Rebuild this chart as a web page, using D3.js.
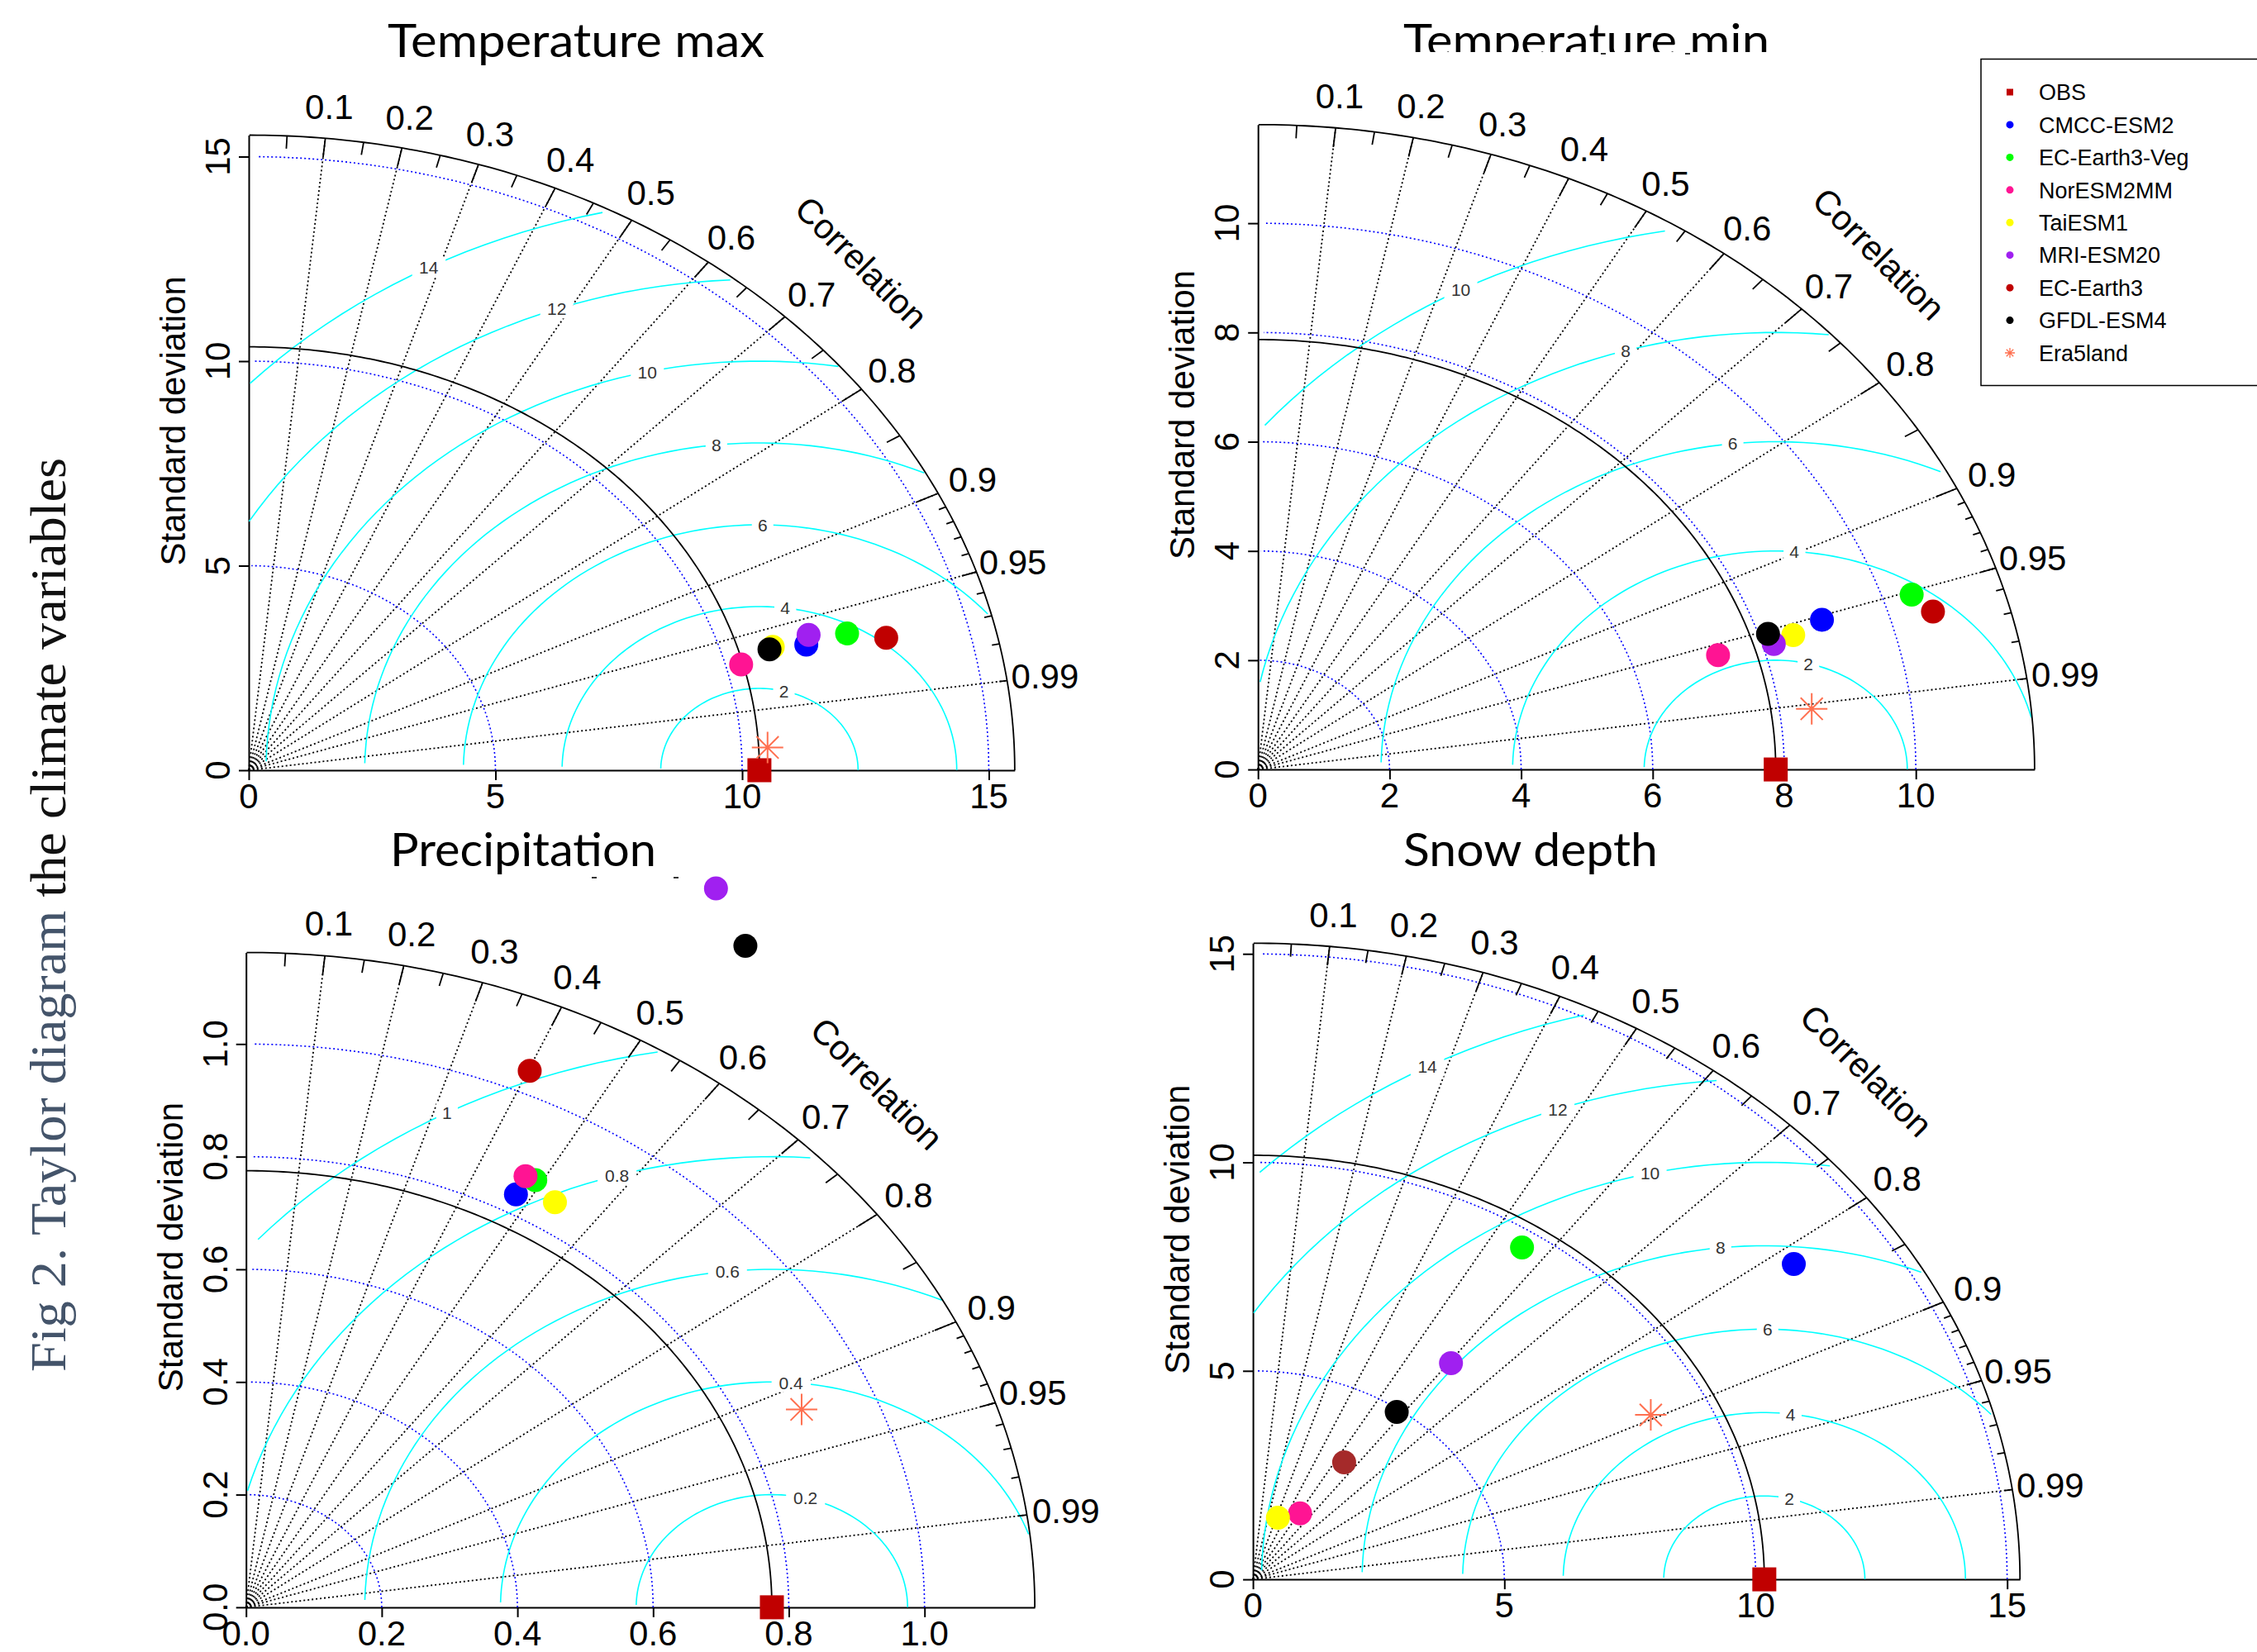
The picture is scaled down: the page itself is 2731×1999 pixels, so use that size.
<!DOCTYPE html>
<html>
<head>
<meta charset="utf-8">
<script src="https://cdn.jsdelivr.net/npm/d3@7"></script>
<style>
  body { margin: 0; background: #fff; }
</style>
</head>
<body>
<script>
// ---- data ----
const models = ["CMCC-ESM2", "EC-Earth3-Veg", "NorESM2MM", "TaiESM1", "MRI-ESM20", "EC-Earth3", "GFDL-ESM4"];
const modelColors = ["#0000ff", "#00ff00", "#ff1493", "#ffff00", "#a020f0", "#c00000", "#000000"];
const snowColors  = ["#0000ff", "#00ff00", "#ff1493", "#ffff00", "#a020f0", "#a52a2a", "#000000"];

// standard deviation + correlation per model (same order as models)
const tmaxObsSd = 10.35;
const tmaxSd  = [11.71, 12.58, 10.31, 11.04, 11.82, 13.32, 10.96];
const tmaxCor = [0.965, 0.964, 0.968, 0.962, 0.960, 0.970, 0.963];
const tmaxEra = [10.53, 0.9986];

const tminObsSd = 7.87;
const tminSd  = [9.00, 10.44, 7.30, 8.50, 8.17, 10.66, 8.14];
const tminCor = [0.9525, 0.9518, 0.958, 0.9572, 0.9597, 0.9625, 0.9524];
const tminEra = [8.49, 0.9914];

const precObsSd = 0.775;
const precSd  = [0.834, 0.870, 0.869, 0.851, 1.452, 1.040, 1.386];
const precCor = [0.477, 0.490, 0.474, 0.535, 0.477, 0.402, 0.531];
const precEra = [0.891, 0.919];

const snowObsSd = 10.17;
const snowSd  = [13.15, 9.59, 1.84, 1.56, 6.51, 3.34, 4.93];
const snowCor = [0.818, 0.558, 0.509, 0.318, 0.605, 0.543, 0.580];
const snowEra = [8.84, 0.895];

const tmaxTicks = [0, 5, 10, 15];
const tminTicks = [0, 2, 4, 6, 8, 10];
const precTicks = [0, 0.2, 0.4, 0.6, 0.8, 1.0];
const snowTicks = [0, 5, 10, 15];

const tmaxGamma = [2, 4, 6, 8, 10, 12, 14];
const tminGamma = [2, 4, 6, 8, 10];
const precGamma = [0.2, 0.4, 0.6, 0.8, 1.0];
const snowGamma = [2, 4, 6, 8, 10, 12, 14];

const corLabels = [0.1, 0.2, 0.3, 0.4, 0.5, 0.6, 0.7, 0.8, 0.9, 0.95, 0.99];

// ---- page ----
const W = 2731, H = 1999;
const RFONT = "'Liberation Sans', Arial, sans-serif";
const svg = d3.select("body").append("svg")
    .attr("width", W).attr("height", H)
    .style("background", "#fff");

const panels = [
  {title: "Temperature max", obs: tmaxObsSd, sd: tmaxSd, cor: tmaxCor, era: tmaxEra, ticks: tmaxTicks, gamma: tmaxGamma,
   colors: modelColors, fmt: d3.format("d"), ox: 301, oy: 932, kx: 59.7, ky: 49.5, tx: 469, tw: 456, ty: 69},
  {title: "Temperature min", obs: tminObsSd, sd: tminSd, cor: tminCor, era: tminEra, ticks: tminTicks, gamma: tminGamma,
   colors: modelColors, fmt: d3.format("d"), ox: 1522.2, oy: 931.1, kx: 79.6, ky: 66.1, tx: 1698, tw: 443, ty: 69, clip: 63},
  {title: "Precipitation", obs: precObsSd, sd: precSd, cor: precCor, era: precEra, ticks: precTicks, gamma: precGamma,
   colors: modelColors, fmt: d3.format(".1f"), ox: 297.7, oy: 1944.9, kx: 821, ky: 681.6, tx: 472, tw: 322, ty: 1048},
  {title: "Snow depth", obs: snowObsSd, sd: snowSd, cor: snowCor, era: snowEra, ticks: snowTicks, gamma: snowGamma,
   colors: snowColors, fmt: d3.format("d"), ox: 1516.1, oy: 1911.1, kx: 60.84, ky: 50.46, tx: 1698, tw: 308, ty: 1048}
];

function drawPanel(p, idx) {
  const maxsd = 1.5 * p.obs;
  const x = d3.scaleLinear().domain([0, maxsd]).range([p.ox, p.ox + maxsd * p.kx]);
  const y = d3.scaleLinear().domain([0, maxsd]).range([p.oy, p.oy - maxsd * p.ky]);
  const line = d3.line().x(d => x(d[0])).y(d => y(d[1]));
  const quarter = (r, step) => d3.range(0, Math.PI / 2, step).map(t => [Math.cos(t) * r, Math.sin(t) * r]);
  const g = svg.append("g").attr("font-family", RFONT);

  // title
  const title = g.append("text")
      .attr("x", p.tx).attr("y", p.ty)
      .attr("font-family", "Lato, 'Open Sans', sans-serif")
      .attr("font-size", 57)
      .attr("textLength", p.tw).attr("lengthAdjust", "spacingAndGlyphs")
      .text(p.title);
  if (p.clip) {
    svg.append("clipPath").attr("id", "clip" + idx)
      .append("rect").attr("x", p.tx - 20).attr("y", 0).attr("width", p.tw + 40).attr("height", p.clip);
    title.attr("clip-path", "url(#clip" + idx + ")");
  }

  // y label
  g.append("text")
      .attr("transform", `translate(${p.ox - 77},${y(0.55 * maxsd)}) rotate(-90)`)
      .attr("text-anchor", "middle")
      .attr("font-size", 42)
      .text("Standard deviation");

  // correlation rays
  g.selectAll(".ray").data(corLabels).join("path")
      .attr("d", c => line([[0, 0], [maxsd * c, maxsd * Math.sqrt(1 - c * c)]]))
      .attr("fill", "none").attr("stroke", "#000").attr("stroke-width", 1.8)
      .attr("stroke-dasharray", "2,3");

  // axes
  const fmt = p.fmt;
  const xAxis = d3.axisBottom(x).tickValues(p.ticks).tickSize(12).tickSizeOuter(0).tickFormat("");
  const yAxis = d3.axisLeft(y).tickValues(p.ticks).tickSize(12).tickSizeOuter(0).tickFormat("");
  const ax = g.append("g").attr("transform", `translate(0,${p.oy})`).call(xAxis);
  const ay = g.append("g").attr("transform", `translate(${p.ox},0)`).call(yAxis);
  [ax, ay].forEach(a => {
    a.selectAll("path, line").attr("stroke", "#000").attr("stroke-width", 2);
  });
  g.selectAll(".xt").data(p.ticks).join("text")
      .attr("x", d => x(d)).attr("y", p.oy + 46)
      .attr("text-anchor", "middle").attr("font-size", 42)
      .text(fmt);
  g.selectAll(".yt").data(p.ticks).join("text")
      .attr("transform", d => `translate(${p.ox - 23},${y(d)}) rotate(-90)`)
      .attr("text-anchor", "middle").attr("font-size", 42)
      .text(fmt);

  // sd arcs
  g.selectAll(".sdarc").data(p.ticks.filter(t => t > 0)).join("path")
      .attr("d", r => line(quarter(r, 0.03)))
      .attr("fill", "none").attr("stroke", "#0000ff").attr("stroke-width", 1.6)
      .attr("stroke-dasharray", "2,3");

  // centred RMS contours (plotrix style)
  const th = d3.range(0, Math.PI, 0.03);
  const n = p.gamma.length;
  p.gamma.forEach((gm, i) => {
    const pts = th.map(t => [Math.cos(t) * gm + p.obs, Math.sin(t) * gm]);
    const neg = pts.findIndex(d => d[0] < 0);
    const end = neg >= 0 ? neg - 1 : pts.length - 1;
    let outside = -1;
    pts.forEach((d, j) => { if (d[0] * d[0] + d[1] * d[1] > maxsd * maxsd) outside = j; });
    const start = outside >= 0 ? outside + 1 : 0;
    g.append("path")
        .attr("d", line(pts.slice(start, end + 1)))
        .attr("fill", "none").attr("stroke", "#00ffff").attr("stroke-width", 1.6);
    const lp = Math.floor(45 + 25 * i / (n - 1)) - 1;
    if (pts[lp][0] > 0) {
      const lab = g.append("g");
      const tx = lab.append("text")
          .attr("x", x(pts[lp][0])).attr("y", y(pts[lp][1]))
          .attr("dy", "0.36em").attr("text-anchor", "middle")
          .attr("font-size", 21).attr("fill", "#333")
          .text(gm);
      const bb = tx.node().getBBox();
      lab.insert("rect", "text")
          .attr("x", bb.x - 6 - bb.width * 0.1).attr("y", bb.y)
          .attr("width", bb.width * 1.2 + 12).attr("height", bb.height)
          .attr("fill", "#fff");
    }
  });

  // outer arc and ticks
  g.append("path").attr("d", line(quarter(maxsd, 0.01)))
      .attr("fill", "none").attr("stroke", "#000").attr("stroke-width", 1.8);
  const tickSet = (vals, len) => vals.map(c => {
    const s = Math.sqrt(1 - c * c);
    return [[c * maxsd, s * maxsd], [c * len * maxsd, s * len * maxsd]];
  });
  const big = d3.range(1, 10).map(k => k / 10);
  const med = d3.range(0, 10).map(k => 0.05 + k / 10);
  const sml = d3.range(1, 10).map(k => 0.9 + k / 100);
  [[big, 0.97], [med, 0.98], [sml, 0.99]].forEach(([vals, len]) => {
    g.selectAll(null).data(tickSet(vals, len)).join("path")
        .attr("d", line).attr("stroke", "#000").attr("stroke-width", 1.8);
  });

  // reference arc
  g.append("path").attr("d", line(quarter(p.obs, 0.01)))
      .attr("fill", "none").attr("stroke", "#000").attr("stroke-width", 1.8);

  // correlation labels
  g.selectAll(".cl").data(corLabels).join("text")
      .attr("x", c => x(c * 1.05 * maxsd))
      .attr("y", c => y(Math.sqrt(1 - c * c) * 1.05 * maxsd))
      .attr("dy", "0.36em").attr("text-anchor", "middle").attr("font-size", 42)
      .text(c => c);
  g.append("text")
      .attr("transform", `translate(${x(0.8 * maxsd)},${y(0.8 * maxsd)}) rotate(45)`)
      .attr("dy", "0.36em").attr("text-anchor", "middle").attr("font-size", 42)
      .text("Correlation");

  // observation
  g.append("rect")
      .attr("x", x(p.obs) - 14.5).attr("y", y(0) - 14.5)
      .attr("width", 29).attr("height", 29).attr("fill", "#c00000");

  // models
  g.selectAll(".pt").data(p.sd).join("circle")
      .attr("cx", (s, i) => x(s * p.cor[i]))
      .attr("cy", (s, i) => y(s * Math.sqrt(1 - p.cor[i] * p.cor[i])))
      .attr("r", 14.5)
      .attr("fill", (s, i) => p.colors[i]);

  // era5land
  const ex = x(p.era[0] * p.era[1]), ey = y(p.era[0] * Math.sqrt(1 - p.era[1] * p.era[1]));
  g.append("path").attr("d", star(ex, ey, 19))
      .attr("stroke", "#ff7050").attr("stroke-width", 2).attr("fill", "none");
}

function star(cx, cy, r) {
  const d = r * Math.SQRT1_2;
  return `M${cx - r},${cy}H${cx + r}M${cx},${cy - r}V${cy + r}` +
         `M${cx - d},${cy - d}L${cx + d},${cy + d}M${cx - d},${cy + d}L${cx + d},${cy - d}`;
}

panels.forEach(drawPanel);

// small leftover marks under two titles
const marks = [[1937, 64], [2039, 64], [716, 1061], [815, 1061]];
svg.selectAll(".mk").data(marks).join("rect")
    .attr("x", d => d[0]).attr("y", d => d[1]).attr("width", 6).attr("height", 2).attr("fill", "#333");

// legend
const legNames = ["OBS"].concat(models, ["Era5land"]);
const legColors = ["#c00000"].concat(modelColors, ["#ff7050"]);
const leg = svg.append("g").attr("font-family", RFONT);
leg.append("rect").attr("x", 2397).attr("y", 71.5).attr("width", 400).attr("height", 395)
    .attr("fill", "#fff").attr("stroke", "#000").attr("stroke-width", 1.5);
const ly = d3.scaleLinear().domain([0, 8]).range([111.5, 427]);
legNames.forEach((nm, i) => {
  const cy = ly(i);
  if (i === 0) {
    leg.append("rect").attr("x", 2428).attr("y", cy - 4).attr("width", 8).attr("height", 8).attr("fill", legColors[i]);
  } else if (i === legNames.length - 1) {
    leg.append("path").attr("d", star(2432, cy, 6)).attr("stroke", legColors[i]).attr("stroke-width", 1.3);
  } else {
    leg.append("circle").attr("cx", 2432).attr("cy", cy).attr("r", 4.5).attr("fill", legColors[i]);
  }
  leg.append("text").attr("x", 2467).attr("y", cy).attr("dy", "0.36em")
      .attr("font-size", 27).text(nm);
});

// side caption
const cap = svg.append("text")
    .attr("transform", "translate(79,1660) rotate(-90)")
    .attr("font-family", "'Liberation Serif', 'Times New Roman', serif")
    .attr("font-size", 62)
    .attr("textLength", 1106).attr("lengthAdjust", "spacingAndGlyphs");
cap.append("tspan").attr("fill", "#44546a").text("Fig 2. Taylor diagram");
cap.append("tspan").attr("fill", "#111").text(" the climate variables");
</script>
</body>
</html>
